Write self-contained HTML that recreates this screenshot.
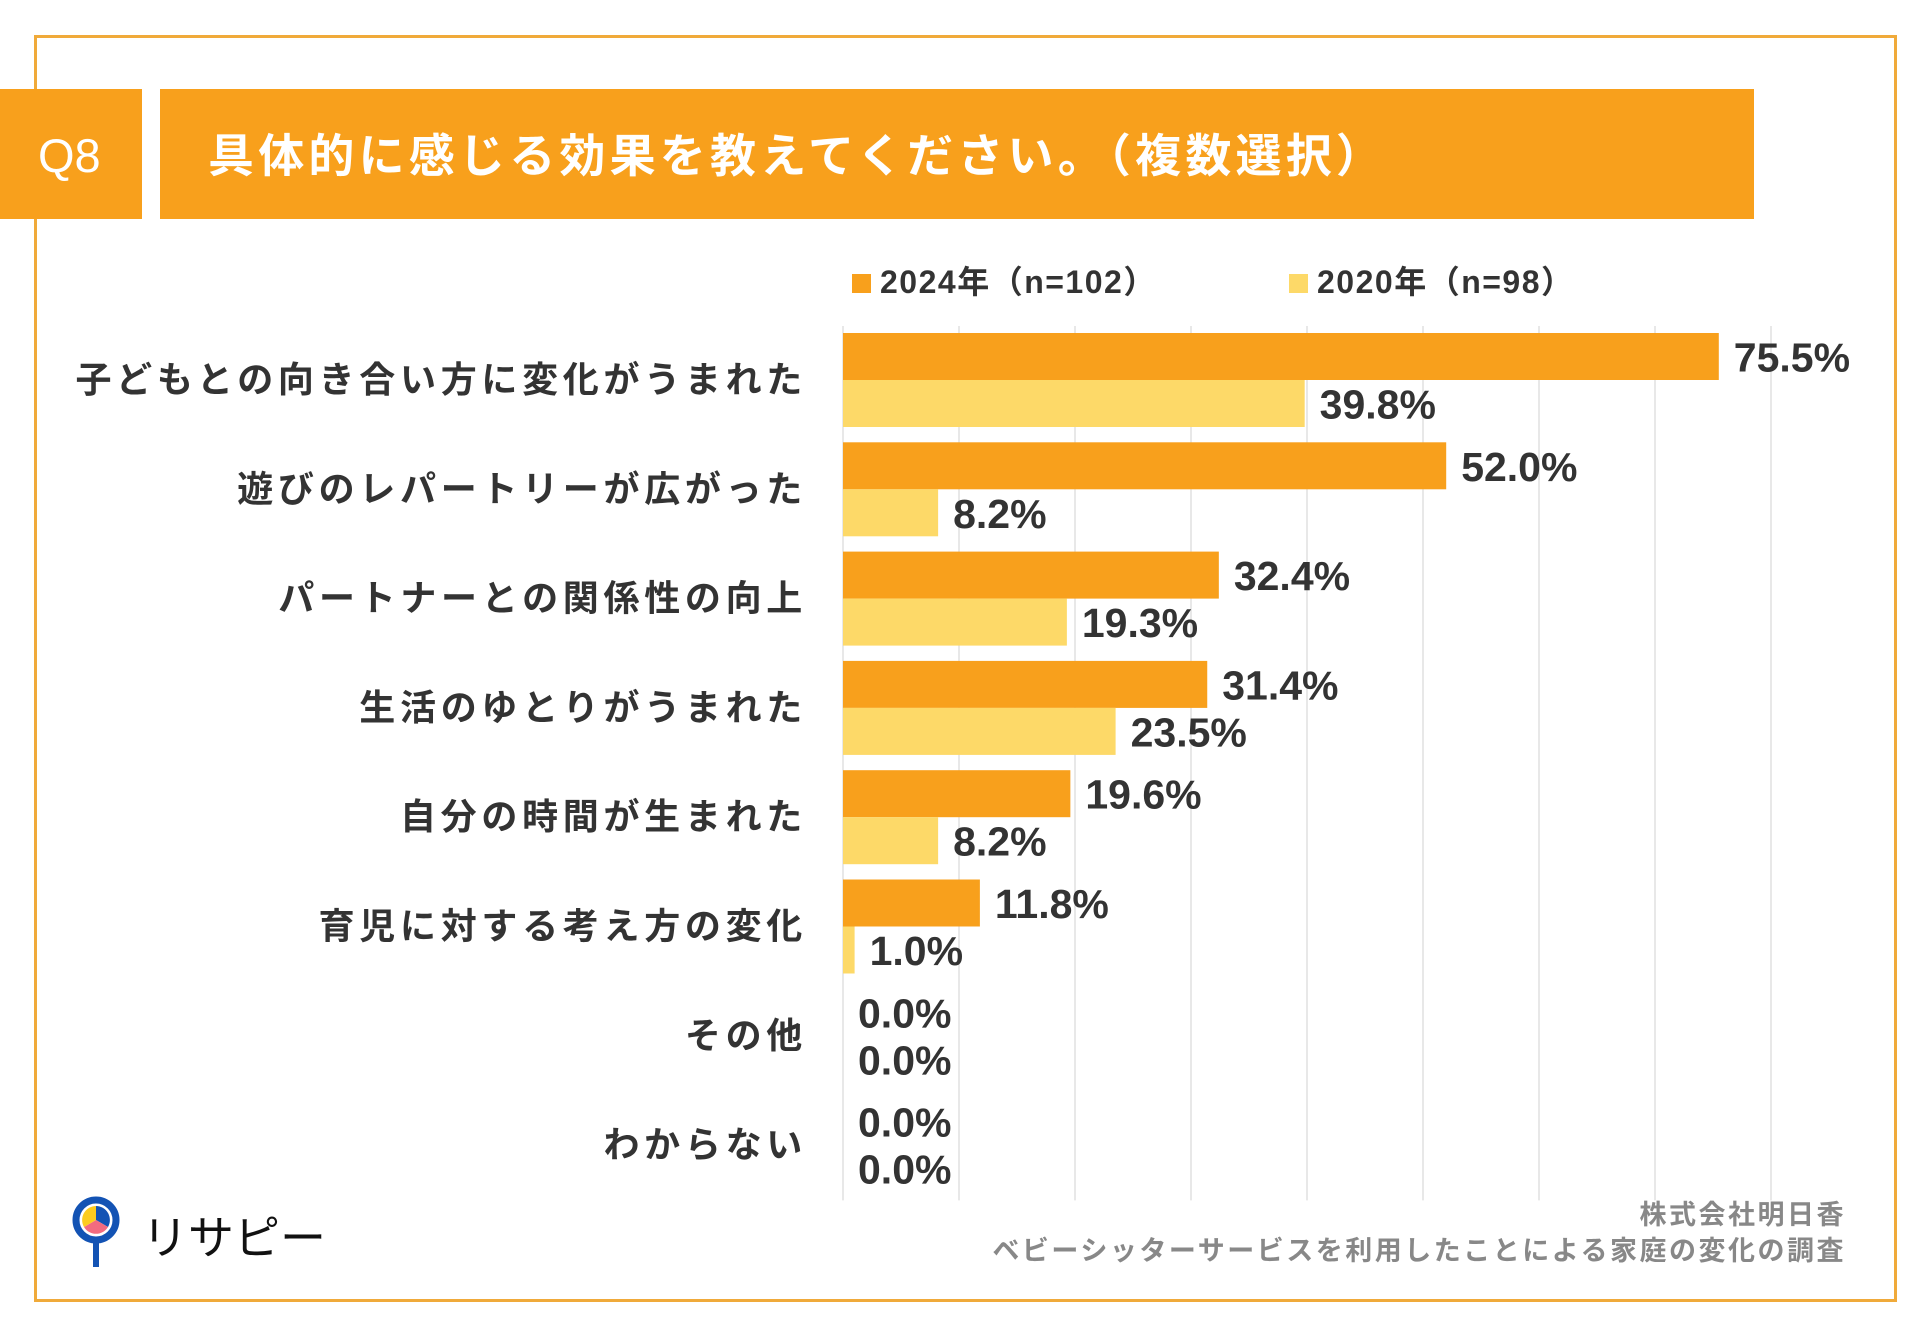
<!DOCTYPE html>
<html><head><meta charset="utf-8"><style>
html,body{margin:0;padding:0;background:#fff;}
body{width:1920px;height:1329px;position:relative;overflow:hidden;font-family:"Liberation Sans","Noto Sans CJK JP",sans-serif;}
</style></head><body>
<svg width="1920" height="1329" viewBox="0 0 1920 1329" xmlns="http://www.w3.org/2000/svg">
<rect x="35.5" y="36.5" width="1860" height="1264" fill="none" stroke="#f0aa3a" stroke-width="3"/>
<rect x="0" y="89" width="142" height="130" fill="#f8a01c"/>
<text x="38" y="172" font-size="47" fill="#fff" font-family="Liberation Sans, sans-serif">Q8</text>
<rect x="160" y="89" width="1594" height="130" fill="#f8a01c"/>
<text x="208" y="172" font-size="46" fill="#fff" font-weight="bold" letter-spacing="4.2" font-family="Liberation Sans, Noto Sans CJK JP, sans-serif">具体的に感じる効果を教えてください。（複数選択）</text>
<rect x="852" y="274" width="19" height="19" fill="#f8a01c"/>
<text x="880" y="293" font-size="32" fill="#333" font-weight="bold" letter-spacing="1.5">2024年（n=102）</text>
<rect x="1289" y="274" width="19" height="19" fill="#fdd968"/>
<text x="1317" y="293" font-size="32" fill="#333" font-weight="bold" letter-spacing="1.5">2020年（n=98）</text>
<g id="grid"></g><g id="bars"></g><g id="labels"></g>
<g>
<circle cx="96" cy="1220" r="20" fill="none" stroke="#1353b4" stroke-width="7"/>
<rect x="93" y="1240" width="6" height="27" fill="#1353b4"/>
<path d="M96 1220 L96 1206 A14 14 0 0 1 108 1227 Z" fill="#1353b4"/>
<path d="M96 1220 L108 1227 A14 14 0 0 1 84 1227 Z" fill="#f36b7f"/>
<path d="M96 1220 L84 1227 A14 14 0 0 1 96 1206 Z" fill="#fccc1f"/>
<text x="142" y="1254" font-size="46" fill="#111">リサピー</text>
</g>
<text x="1846" y="1224" font-size="27" fill="#888" text-anchor="end" font-weight="bold" letter-spacing="2.5">株式会社明日香</text>
<text x="1846" y="1260" font-size="27" fill="#888" text-anchor="end" font-weight="bold" letter-spacing="2.5">ベビーシッターサービスを利用したことによる家庭の変化の調査</text>
</svg>
<script>
const categories=["子どもとの向き合い方に変化がうまれた","遊びのレパートリーが広がった","パートナーとの関係性の向上","生活のゆとりがうまれた","自分の時間が生まれた","育児に対する考え方の変化","その他","わからない"];
const values2024=[75.5,52.0,32.4,31.4,19.6,11.8,0.0,0.0];
const values2020=[39.8,8.2,19.3,23.5,8.2,1.0,0.0,0.0];
const gridTicks=[0,10,20,30,40,50,60,70,80];
const NS="http://www.w3.org/2000/svg";
const x0=843,pxPer=11.6,top0=326,band=109.3,barH=47,off=7;
function xs(v){return x0+v*pxPer;}
function yb(i){return top0+i*band+off;}
function mk(t,a,p){const e=document.createElementNS(NS,t);for(const k in a)e.setAttribute(k,a[k]);document.getElementById(p).appendChild(e);return e;}
gridTicks.forEach(t=>{const l=mk('line',{x1:xs(t),x2:xs(t),y1:top0,y2:top0+band*8,stroke:'#d9d9d9','stroke-width':1.2},'grid');

});
categories.forEach((c,i)=>{
 const y=yb(i);
 const r1=mk('rect',{x:x0,y:y,width:values2024[i]*pxPer,height:barH,fill:'#f8a01c'},'bars');
 
 
 const r2=mk('rect',{x:x0,y:y+barH,width:values2020[i]*pxPer,height:barH,fill:'#fdd968'},'bars');
 
 
 const cl=mk('text',{x:807,y:y+barH+12,'font-size':36,fill:'#333','font-weight':'bold','text-anchor':'end','letter-spacing':'4.7'},'labels');
 cl.textContent=c;
 
 
 const v1=mk('text',{x:xs(values2024[i])+15,y:y+barH/2+15,'font-size':41,fill:'#333','font-weight':'bold'},'labels');
 v1.textContent=values2024[i].toFixed(1)+'%';
 
 
 const v2=mk('text',{x:xs(values2020[i])+15,y:y+barH*1.5+15,'font-size':41,fill:'#333','font-weight':'bold'},'labels');
 v2.textContent=values2020[i].toFixed(1)+'%';
 
 
});
</script>
</body></html>
